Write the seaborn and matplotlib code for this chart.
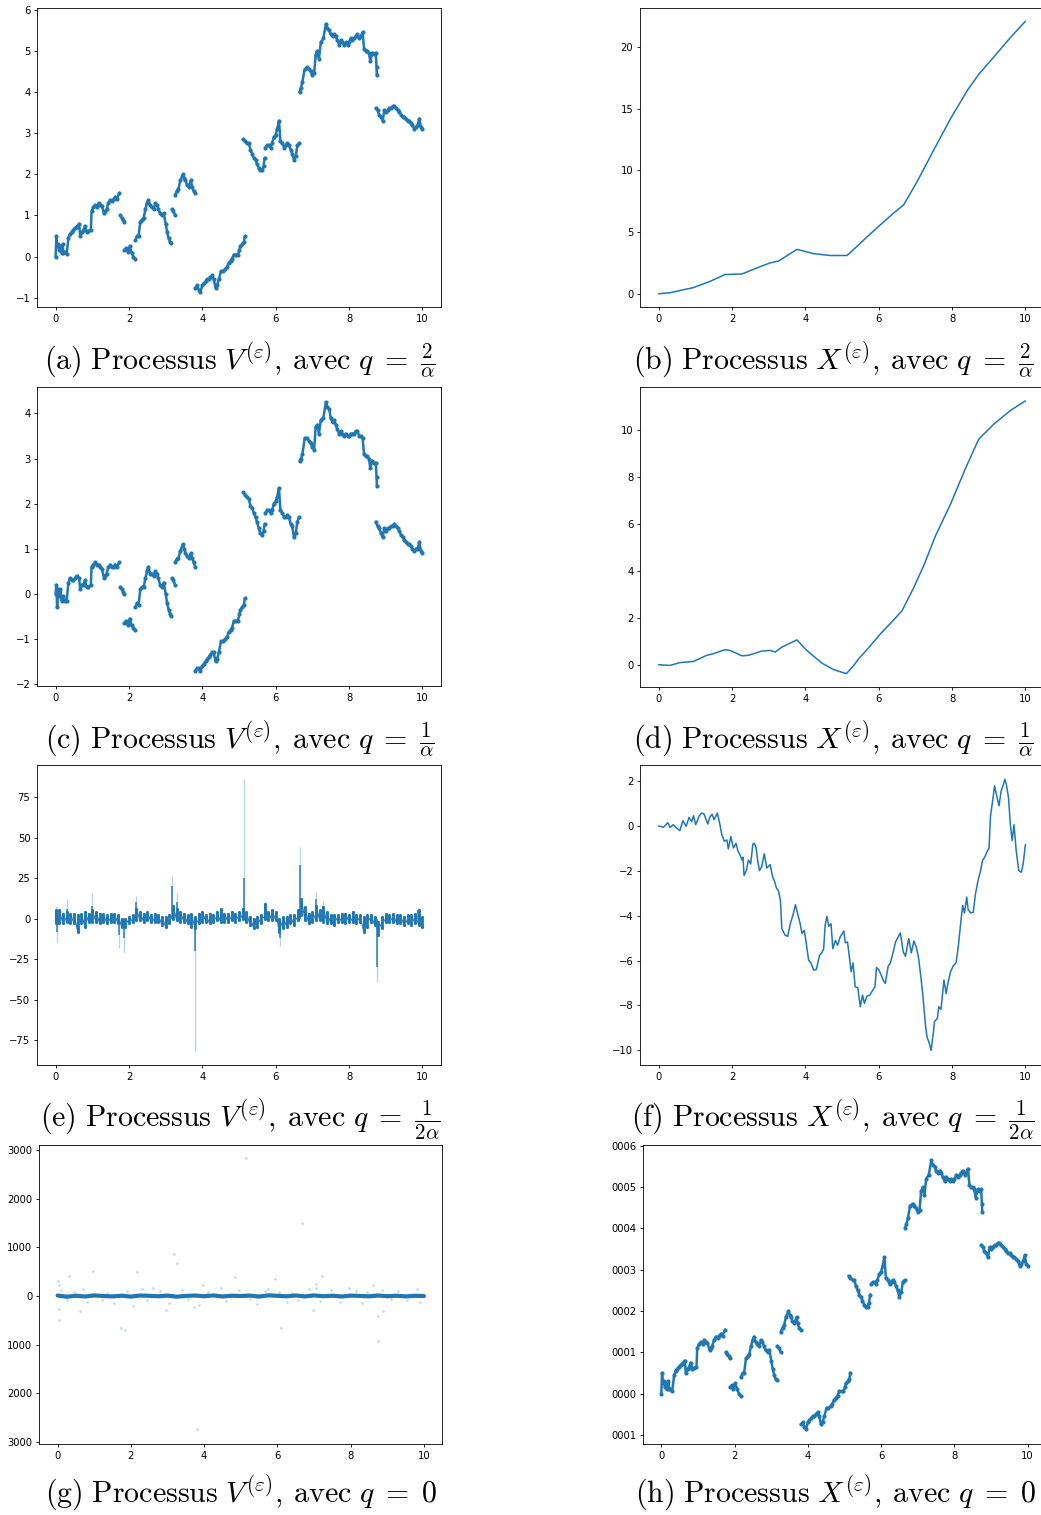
import numpy as np
import pandas as pd
import seaborn as sns
import matplotlib.pyplot as plt

sns.set_style('ticks')
plt.rcParams['font.family'] = ['DejaVu Sans']
plt.rcParams['mathtext.fontset'] = 'cm'
plt.rcParams['axes.edgecolor'] = 'black'
plt.rcParams['axes.linewidth'] = 0.6

nan = np.nan
BLUE = '#1f77b4'
EPS = 1e-4  # X = eps * V for q = 0

# --- V process, q = 2/alpha (a) and q = 1/alpha (c); nan marks a jump ---
v_x = [0.00, 0.02, 0.04, 0.07, 0.10, 0.13, 0.16, 0.19, 0.21, 0.25, 0.30, 0.35, 0.39, 0.44, 0.48, 0.53, 0.57, 0.64,
       0.67, 0.72, 0.76, 0.80, 0.85, 0.89, 0.96, 0.98, 1.03, 1.08, 1.13, 1.17, 1.22, 1.26, 1.32, 1.35, 1.39, 1.44,
       1.49, 1.54, 1.58, 1.63, 1.67, 1.74, nan,
       1.76, 1.80, 1.84, 1.87, nan,
       1.87, 1.92, 1.97, 2.02, 2.07, 2.12, 2.17, nan,
       2.17, 2.22, 2.26, 2.31, 2.36, 2.40, 2.45, 2.49, 2.53, 2.58, 2.62, 2.67, 2.72, 2.76, 2.80, 2.85, 2.90, 2.95,
       3.00, 3.04, 3.08, 3.12, 3.15, nan,
       3.17, 3.21, 3.26, nan,
       3.26, 3.31, 3.35, 3.40, 3.47, 3.51, 3.54, 3.58, 3.63, 3.69, 3.72, 3.76, 3.81, nan,
       3.81, 3.86, 3.90, 3.95, 4.00, 4.04, 4.09, 4.13, 4.18, 4.22, 4.27, 4.31, 4.36, 4.40, 4.45, 4.51, 4.56, 4.63,
       4.67, 4.72, 4.77, 4.81, 4.86, 4.92, 4.97, 5.01, 5.04, 5.09, 5.13, 5.16, nan,
       5.11, 5.16, 5.22, 5.27, 5.31, 5.36, 5.40, 5.45, 5.49, 5.54, 5.58, 5.63, 5.67, 5.70, nan,
       5.72, 5.77, 5.82, 5.86, 5.90, 5.95, 6.00, 6.04, 6.09, 6.13, 6.18, 6.23, 6.27, 6.32, 6.36, 6.41, 6.45, 6.50,
       6.55, 6.59, 6.64, nan,
       6.65, 6.69, 6.73, 6.79, 6.86, 6.90, 6.95, 7.00, 7.05, 7.09, 7.14, 7.18, 7.23, 7.30, 7.37, 7.41, 7.46, 7.50,
       7.55, 7.60, 7.64, 7.68, 7.73, 7.78, 7.82, 7.87, 7.91, 7.96, 8.00, 8.05, 8.09, 8.14, 8.18, 8.23, 8.28, 8.32,
       8.37, 8.41, 8.45, 8.50, 8.54, 8.58, 8.64, 8.68, 8.73, 8.75, 8.76, nan,
       8.73, 8.78, 8.82, 8.87, 8.92, 8.96, 9.01, 9.05, 9.10, 9.14, 9.19, 9.23, 9.28, 9.33, 9.37, 9.42, 9.46, 9.51,
       9.55, 9.60, 9.64, 9.69, 9.73, 9.78, 9.83, 9.87, 9.92, 9.96, 10.00]

va_y = [0.00, 0.50, 0.25, 0.30, 0.15, 0.25, 0.10, 0.30, 0.10, 0.12, 0.07, 0.45, 0.55, 0.60, 0.65, 0.70, 0.72, 0.80,
        0.50, 0.60, 0.65, 0.75, 0.60, 0.62, 0.65, 1.10, 1.20, 1.25, 1.20, 1.30, 1.25, 1.22, 1.05, 1.10, 1.15, 1.30,
        1.38, 1.35, 1.40, 1.45, 1.40, 1.55, nan,
        1.00, 0.95, 0.90, 0.85, nan,
        0.15, 0.20, 0.12, 0.25, 0.10, 0.00, -0.05, nan,
        0.40, 0.50, 0.50, 0.85, 0.90, 0.95, 1.15, 1.30, 1.38, 1.25, 1.20, 1.15, 1.30, 1.25, 1.15, 1.05, 1.00, 1.05,
        0.80, 0.60, 0.45, 0.35, 0.32, nan,
        1.15, 1.10, 1.00, nan,
        1.50, 1.60, 1.65, 1.85, 2.00, 1.90, 1.85, 1.75, 1.70, 1.85, 1.70, 1.60, 1.55, nan,
        -0.75, -0.70, -0.80, -0.85, -0.70, -0.65, -0.60, -0.55, -0.55, -0.50, -0.45, -0.55, -0.75, -0.70, -0.55,
        -0.35, -0.35, -0.30, -0.25, -0.15, -0.10, -0.05, 0.05, 0.05, 0.05, 0.15, 0.25, 0.30, 0.35, 0.50, nan,
        2.85, 2.80, 2.75, 2.75, 2.60, 2.50, 2.40, 2.35, 2.25, 2.15, 2.10, 2.10, 2.20, 2.40, nan,
        2.65, 2.70, 2.70, 2.65, 2.75, 2.90, 2.95, 3.10, 3.30, 2.80, 2.75, 2.65, 2.70, 2.75, 2.70, 2.60, 2.50, 2.35,
        2.45, 2.70, 2.75, nan,
        4.00, 4.10, 4.25, 4.55, 4.60, 4.55, 4.50, 4.40, 4.45, 4.90, 5.00, 4.80, 5.20, 5.30, 5.65, 5.55, 5.50, 5.40,
        5.35, 5.40, 5.35, 5.25, 5.15, 5.25, 5.20, 5.15, 5.20, 5.15, 5.20, 5.30, 5.25, 5.30, 5.35, 5.40, 5.30, 5.35,
        5.45, 5.05, 5.00, 5.00, 4.95, 4.75, 4.95, 4.92, 4.95, 4.60, 4.40, nan,
        3.60, 3.55, 3.45, 3.40, 3.30, 3.55, 3.50, 3.55, 3.60, 3.60, 3.65, 3.65, 3.60, 3.55, 3.50, 3.45, 3.40, 3.40,
        3.35, 3.30, 3.30, 3.25, 3.20, 3.10, 3.15, 3.20, 3.35, 3.15, 3.10]

vc_y = [0.00, 0.20, -0.30, 0.10, -0.05, 0.10, -0.15, -0.05, -0.10, -0.15, -0.15, 0.25, 0.35, 0.30, 0.30, 0.35, 0.40,
        0.35, 0.10, 0.20, 0.20, 0.30, 0.15, 0.15, 0.20, 0.60, 0.65, 0.70, 0.65, 0.65, 0.60, 0.55, 0.35, 0.40, 0.45,
        0.60, 0.65, 0.60, 0.60, 0.65, 0.60, 0.70, nan,
        0.15, 0.10, 0.05, 0.00, nan,
        -0.65, -0.60, -0.70, -0.55, -0.70, -0.75, -0.80, nan,
        -0.30, -0.20, -0.25, 0.10, 0.15, 0.15, 0.35, 0.50, 0.60, 0.45, 0.45, 0.40, 0.50, 0.45, 0.35, 0.20, 0.15, 0.25,
        0.00, -0.20, -0.35, -0.45, -0.50, nan,
        0.35, 0.30, 0.20, nan,
        0.70, 0.78, 0.80, 0.95, 1.10, 1.00, 0.90, 0.85, 0.80, 0.90, 0.80, 0.70, 0.60, nan,
        -1.70, -1.65, -1.65, -1.72, -1.60, -1.55, -1.50, -1.45, -1.40, -1.35, -1.30, -1.30, -1.50, -1.45, -1.30,
        -1.05, -1.05, -1.00, -0.95, -0.85, -0.80, -0.75, -0.60, -0.60, -0.60, -0.45, -0.35, -0.30, -0.25, -0.10, nan,
        2.25, 2.20, 2.15, 2.10, 1.95, 1.90, 1.80, 1.70, 1.60, 1.45, 1.35, 1.30, 1.40, 1.55, nan,
        1.80, 1.85, 1.85, 1.80, 1.85, 2.00, 2.05, 2.15, 2.35, 1.85, 1.80, 1.70, 1.70, 1.75, 1.70, 1.55, 1.50, 1.25,
        1.35, 1.60, 1.70, nan,
        2.95, 3.00, 3.10, 3.45, 3.45, 3.40, 3.35, 3.25, 3.20, 3.70, 3.75, 3.55, 3.85, 3.90, 4.25, 4.15, 4.10, 3.90,
        3.80, 3.85, 3.75, 3.65, 3.55, 3.60, 3.55, 3.50, 3.55, 3.50, 3.50, 3.55, 3.55, 3.55, 3.60, 3.60, 3.50, 3.50,
        3.45, 3.10, 3.05, 3.05, 3.00, 2.80, 2.95, 2.90, 2.90, 2.60, 2.40, nan,
        1.60, 1.50, 1.45, 1.35, 1.25, 1.45, 1.40, 1.45, 1.45, 1.50, 1.50, 1.55, 1.50, 1.45, 1.40, 1.30, 1.25, 1.20,
        1.15, 1.10, 1.10, 1.05, 1.00, 0.95, 1.00, 1.00, 1.15, 0.95, 0.90]

# --- X process, q = 2/alpha (b) ---
b_x = [0.00, 0.31, 0.95, 1.40, 1.81, 2.27, 2.77, 3.04, 3.27, 3.77, 4.23, 4.68, 5.14, 5.32, 5.68, 6.05, 6.41, 6.68,
       7.05, 7.50, 7.96, 8.42, 8.73, 9.14, 9.60, 10.00]
b_y = [0.00, 0.08, 0.50, 1.00, 1.56, 1.60, 2.20, 2.50, 2.65, 3.60, 3.25, 3.10, 3.10, 3.60, 4.60, 5.60, 6.55, 7.20,
       9.10, 11.65, 14.20, 16.50, 17.80, 19.20, 20.80, 22.10]

# --- X process, q = 1/alpha (d) ---
d_x = [0.00, 0.31, 0.58, 0.95, 1.31, 1.49, 1.81, 1.95, 2.27, 2.45, 2.81, 3.04, 3.18, 3.36, 3.77, 4.04, 4.45, 4.77,
       5.12, 5.32, 5.46, 5.68, 6.05, 6.41, 6.64, 6.96, 7.23, 7.55, 7.96, 8.37, 8.73, 9.14, 9.60, 10.00]
d_y = [0.00, -0.03, 0.09, 0.14, 0.40, 0.47, 0.64, 0.61, 0.38, 0.40, 0.58, 0.61, 0.54, 0.75, 1.06, 0.61, 0.07, -0.21,
       -0.38, -0.03, 0.26, 0.64, 1.32, 1.91, 2.31, 3.30, 4.23, 5.50, 6.85, 8.38, 9.62, 10.26, 10.85, 11.25]

# --- X process, q = 1/(2 alpha) (f) ---
f_x = [0.00, 0.08, 0.13, 0.25, 0.31, 0.40, 0.49, 0.58, 0.66, 0.75, 0.83, 0.90, 0.95, 1.01, 1.11, 1.17, 1.24, 1.34,
       1.40, 1.46, 1.51, 1.60, 1.66, 1.72, 1.79, 1.86, 1.90, 1.97, 2.04, 2.11, 2.16, 2.22, 2.27, 2.30, 2.33, 2.39,
       2.45, 2.51, 2.57, 2.61, 2.66, 2.70, 2.75, 2.81, 2.88, 2.95, 3.04, 3.11, 3.16, 3.21, 3.27, 3.32, 3.36, 3.45,
       3.52, 3.59, 3.66, 3.73, 3.79, 3.86, 3.91, 3.97, 4.02, 4.09, 4.15, 4.23, 4.30, 4.39, 4.45, 4.50, 4.54, 4.59,
       4.64, 4.70, 4.75, 4.82, 4.88, 4.95, 5.05, 5.09, 5.15, 5.25, 5.30, 5.36, 5.43, 5.50, 5.56, 5.61, 5.68, 5.76,
       5.84, 5.90, 5.94, 6.00, 6.07, 6.12, 6.18, 6.26, 6.32, 6.39, 6.46, 6.52, 6.59, 6.67, 6.73, 6.82, 6.89, 6.96,
       7.03, 7.09, 7.14, 7.20, 7.28, 7.32, 7.38, 7.43, 7.49, 7.52, 7.60, 7.64, 7.70, 7.78, 7.84, 7.89, 7.96, 8.03,
       8.11, 8.17, 8.23, 8.29, 8.34, 8.40, 8.44, 8.51, 8.58, 8.64, 8.71, 8.78, 8.83, 8.89, 8.96, 9.01, 9.05, 9.12,
       9.16, 9.21, 9.28, 9.34, 9.39, 9.44, 9.48, 9.54, 9.59, 9.64, 9.69, 9.75, 9.82, 9.89, 9.94, 10.00]
f_y = [0.00, -0.03, -0.06, 0.15, -0.06, 0.06, -0.09, -0.21, 0.24, -0.01, 0.39, 0.19, 0.46, 0.06, 0.46, 0.58, 0.53,
       0.09, 0.41, 0.53, 0.28, 0.58, 0.16, -0.36, -0.68, -0.62, -1.02, -0.47, -0.98, -0.77, -1.10, -1.29, -1.51,
       -1.39, -2.21, -1.99, -1.51, -1.69, -0.80, -0.77, -0.98, -1.54, -1.99, -1.81, -1.24, -1.87, -1.72, -2.28,
       -2.46, -2.76, -2.90, -3.32, -4.58, -4.87, -4.92, -4.36, -3.99, -3.51, -3.91, -4.36, -4.80, -4.65, -5.17,
       -5.99, -6.10, -6.43, -6.40, -5.76, -5.66, -5.47, -4.43, -4.03, -4.47, -4.36, -5.47, -5.10, -5.32, -4.95,
       -4.68, -5.21, -5.17, -6.50, -6.10, -7.17, -7.21, -8.06, -7.54, -7.91, -7.59, -7.54, -7.32, -7.17, -6.31,
       -6.40, -6.65, -6.87, -7.02, -6.25, -6.10, -5.66, -5.17, -4.98, -4.77, -5.61, -5.81, -5.02, -5.66, -5.13,
       -5.42, -5.91, -6.58, -7.47, -8.95, -9.42, -9.69, -10.01, -9.24, -8.73, -8.58, -8.06, -8.18, -6.87, -7.47,
       -6.99, -6.50, -6.25, -6.10, -5.39, -4.43, -3.54, -3.88, -3.17, -3.73, -3.88, -3.84, -3.02, -2.43, -1.99,
       -1.54, -1.39, -1.13, -0.98, 0.46, 1.27, 1.79, 1.42, 0.90, 1.57, 1.79, 2.09, 1.87, 1.27, 0.09, -0.65, 0.06,
       -1.10, -1.99, -2.06, -1.69, -0.83]

# --- V process, q = 1/(2 alpha) (e): band low / high every 0.1, plus spikes ---
e_x = np.linspace(0, 10, 101)
e_lo = [-3, -3, -3, -2, -3, -3, -8, -3, -5, -2, -2, -2, -3, -2, -3, -2, -2, -3, -5, -5, -3, -2, -1, -1, -2, -1,
        -2, -2, -2, -4, -5, -3, 0, -1, -2, -2, -3, -5, -6, -3, -2, -2, -3, -2, -1, -2, -2, -2, -1, -2, -1, 0, -2,
        -4, -6, -5, -3, 0, -1, -1, -1, -8, -6, -5, -3, -4, -1, 2, -1, -3, -2, -1, -1, -2, -3, -3, -4, -2, -2, -3,
        -2, -2, -3, -2, -8, -5, -2, -4, -10, -6, -2, -2, -2, -3, -3, -4, -3, -4, -3, -4, -5]
e_hi = [5, 5, 3, 4, 3, 3, 2, 3, 4, 3, 5, 4, 3, 3, 2, 3, 3, 2, 0, 0, 1, 2, 6, 4, 3, 4, 2, 3, 2, 1, 1, 2, 8, 6, 4, 3,
        2, 3, 1, 3, 4, 2, 3, 2, 4, 6, 3, 3, 4, 3, 4, 6, 4, 1, 0, 1, 2, 9, 4, 5, 4, 0, 1, 1, 2, 2, 5, 12, 7, 3, 4, 8,
        5, 7, 4, 2, 2, 2, 3, 3, 2, 4, 2, 2, 1, 2, 2, 1, -2, 1, 3, 2, 3, 2, 2, 1, 2, 2, 3, 5, 1]
e_spike_x = [0.02, 0.03, 0.31, 0.62, 0.98, 1.73, 1.86, 2.18, 3.18, 3.30, 3.81, 5.13, 5.70, 6.12, 6.65, 7.10, 7.30,
             8.77, 9.87]
e_spike_peak = [8, -15, 12, -8, 15.5, -18, -21, 14, 26, 16, -82, 86, 10, -17, 44, 17, 11, -39, 7]
e_spike_dense = [3, -8, 6, -5, 8, -10, -12, 10, 20, 10, -20, 25, 6, -12, 33, 12, 8, -30, 5]

# --- V process, q = 0 (g): narrow band around 0 and sparse outliers ---
g_x = np.linspace(0, 10, 41)
g_y = [10, -15, 5, -10, 12, 0, -8, 6, -12, 10, 4, -6, 8, -14, 2, 10, -5, 12, -10, 6, 0, 8, -12, 14, 4, -6, 10, -8,
       12, -4, 6, -10, 8, 2, -6, 10, -4, 6, -8, 4, 0]
g_out_x = [5.14, 6.67, 3.17, 3.27, 0.97, 2.18, 0.31, 4.84, 7.23, 5.92, 0.00, 0.04, 3.97, 8.60, 7.05, 0.05, 0.04,
           0.60, 2.05, 2.97, 3.72, 1.72, 1.84, 6.10, 6.96, 8.75, 8.75, 8.89, 3.80, 0.10, 0.25, 0.45, 0.70, 0.80,
           1.20, 1.35, 1.55, 1.90, 2.30, 2.45, 2.60, 2.80, 3.05, 3.40, 3.55, 3.85, 4.10, 4.45, 4.60, 4.95, 5.25,
           5.45, 5.65, 5.75, 6.05, 6.25, 6.40, 6.55, 6.85, 7.05, 7.15, 7.45, 7.70, 7.95, 8.15, 8.30, 8.45, 8.85,
           9.10, 9.30, 9.55, 9.80, 9.90]
g_out_y = [2830, 1510, 864, 673, 517, 483, 415, 381, 401, 354, 299, 218, 231, 218, 245, -258, -497, -299, -211,
           -279, -231, -653, -707, -667, -279, -925, -401, -299, -2735, 120, -80, 90, 150, -120, -90, 60, -140,
           100, 140, -90, 170, 110, -150, 130, -70, -190, 90, 160, -110, 120, -60, -170, 110, 150, 90, -130, 70,
           -90, 150, 170, -100, 120, -120, 170, 110, -150, 80, 120, -60, 100, -90, 140, -120]

x_ticks = [0, 2, 4, 6, 8, 10]
g_ticks = [-3000, -2000, -1000, 0, 1000, 2000, 3000]
g_ticklabels = ['3000', '2000', '1000', '0', '1000', '2000', '3000']
h_ticks = [-1e-4, 0, 1e-4, 2e-4, 3e-4, 4e-4, 5e-4, 6e-4]
h_ticklabels = ['0001', '0000', '0001', '0002', '0003', '0004', '0005', '0006']

captions = [
    r'$\mathrm{(a)\ Processus\ }V^{(\varepsilon)}\mathrm{,\:avec\ }q\;=\;\frac{2}{\alpha}$',
    r'$\mathrm{(b)\ Processus\ }X^{(\varepsilon)}\mathrm{,\:avec\ }q\;=\;\frac{2}{\alpha}$',
    r'$\mathrm{(c)\ Processus\ }V^{(\varepsilon)}\mathrm{,\:avec\ }q\;=\;\frac{1}{\alpha}$',
    r'$\mathrm{(d)\ Processus\ }X^{(\varepsilon)}\mathrm{,\:avec\ }q\;=\;\frac{1}{\alpha}$',
    r'$\mathrm{(e)\ Processus\ }V^{(\varepsilon)}\mathrm{,\:avec\ }q\;=\;\frac{1}{2\alpha}$',
    r'$\mathrm{(f)\ Processus\ }X^{(\varepsilon)}\mathrm{,\:avec\ }q\;=\;\frac{1}{2\alpha}$',
    r'$\mathrm{(g)\ Processus\ }V^{(\varepsilon)}\mathrm{,\:avec\ }q\;=\;0$',
    r'$\mathrm{(h)\ Processus\ }X^{(\varepsilon)}\mathrm{,\:avec\ }q\;=\;0$',
]


def segments(x, y, scale=1.0):
    df = pd.DataFrame({'x': x, 'y': np.array(y, dtype=float) * scale})
    df['seg'] = df['y'].isna().cumsum()
    return df.dropna()


def dots(ax, df):
    sns.lineplot(data=df, x='x', y='y', units='seg', estimator=None, sort=False,
                 color=BLUE, lw=1.8, ax=ax)
    sns.scatterplot(data=df, x='x', y='y', color=BLUE, s=9, linewidth=0, ax=ax)


W, H = 1041, 1515
fig = plt.figure(figsize=(W / 100, H / 100), dpi=100)


def add_ax(left, top, width=403.4, height=299.0):
    return fig.add_axes([left / W, 1 - (top + height) / H, width / W, height / H])


ax_a = add_ax(37.3, 8.3)
ax_b = add_ax(640.3, 8.3)
ax_c = add_ax(37.3, 387.3)
ax_d = add_ax(640.3, 387.3, height=299.7)
ax_e = add_ax(37.3, 765.3, height=299.7)
ax_f = add_ax(640.3, 765.3, height=299.7)
ax_g = add_ax(39.3, 1144.7, width=403.0, height=299.3)
ax_h = add_ax(643.0, 1144.7, width=403.0, height=299.6)

# (a), (c), (h): scattered V paths
dots(ax_a, segments(v_x, va_y))
dots(ax_c, segments(v_x, vc_y))
dots(ax_h, segments(v_x, va_y, EPS))

# (b), (d), (f): X paths
sns.lineplot(x=b_x, y=b_y, color=BLUE, lw=1.1, ax=ax_b)
sns.lineplot(x=d_x, y=d_y, color=BLUE, lw=1.1, ax=ax_d)
sns.lineplot(x=f_x, y=f_y, color=BLUE, lw=1.1, ax=ax_f)

# (e): spikes, then the noisy band (solid core plus zigzag edges)
ax_e.vlines(e_spike_x, 0, e_spike_peak, color=BLUE, lw=1.0, alpha=0.3)
ax_e.vlines(e_spike_x, 0, e_spike_dense, color=BLUE, lw=1.3, alpha=0.8)
ax_e.vlines(e_x, e_lo, e_hi, color=BLUE, lw=2.0)
zig = pd.DataFrame({'x': np.repeat(e_x, 2), 'y': np.column_stack([e_lo, e_hi]).ravel()})
sns.lineplot(data=zig, x='x', y='y', estimator=None, sort=False, color=BLUE, lw=0.8, ax=ax_e)
sns.scatterplot(data=zig, x='x', y='y', color=BLUE, s=5, linewidth=0, ax=ax_e)

# (g)
sns.scatterplot(x=g_out_x, y=g_out_y, color=BLUE, s=4, alpha=0.25, linewidth=0, ax=ax_g)
sns.lineplot(x=g_x, y=g_y, color=BLUE, lw=3.0, ax=ax_g)

limits = {
    ax_a: (-1.23, 6.03), ax_b: (-1.1, 23.15), ax_c: (-2.05, 4.58), ax_d: (-0.95, 11.83),
    ax_e: (-90.4, 94.6), ax_f: (-10.66, 2.71), ax_g: (-3041, 3109), ax_h: (-1.23e-4, 6.03e-4),
}
for ax, lim in limits.items():
    ax.set_xlim(-0.5, 10.5)
    ax.set_ylim(*lim)
    ax.set_xticks(x_ticks)
    ax.set_xlabel('')
    ax.set_ylabel('')
    ax.tick_params(labelsize=7.2, length=2.5, width=0.6, pad=2.5, colors='black')
    for sp in ax.spines.values():
        sp.set_visible(True)
        sp.set_linewidth(0.6)
        sp.set_color('black')

ax_a.set_yticks([-1, 0, 1, 2, 3, 4, 5, 6])
ax_b.set_yticks([0, 5, 10, 15, 20])
ax_c.set_yticks([-2, -1, 0, 1, 2, 3, 4])
ax_d.set_yticks([0, 2, 4, 6, 8, 10])
ax_e.set_yticks([-75, -50, -25, 0, 25, 50, 75])
ax_f.set_yticks([-10, -8, -6, -4, -2, 0, 2])
ax_g.set_yticks(g_ticks)
ax_g.set_yticklabels(g_ticklabels)
ax_h.set_yticks(h_ticks)
ax_h.set_yticklabels(h_ticklabels)

# captions under each panel
cap_pos = [(240, 370), (833, 370), (240, 749), (833, 749),
           (240, 1127), (833, 1127), (241, 1503), (835, 1503)]
for (cx, cy), txt in zip(cap_pos, captions):
    fig.text(cx / W, 1 - cy / H, txt, ha='center', va='baseline', fontsize=21.5, color='black')

fig.savefig('out.png', dpi=100, facecolor='white')
